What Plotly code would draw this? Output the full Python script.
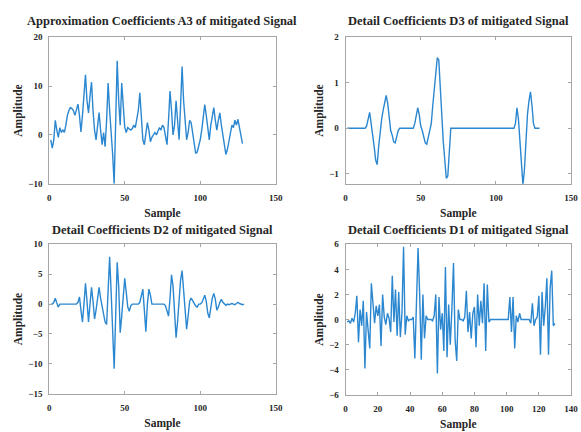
import plotly.graph_objects as go

# Wavelet decomposition coefficients of the mitigated signal
a3_values = [
    -1, -2.7, -1, 3, 1, -0.5, 1.5, 0.5, 1, 0.5,
    2, 4, 5, 5.6, 5.4, 5, 4, 5, 6.3, 4,
    0.6, 4, 8, 12.3, 7, 4.5, 8, 10.8, 5, 1,
    -1, 2, 4.6, 1, -2, 0.5, -2.4, 3, 10.6, 5,
    1, -4, -10, 6, 15.2, 7, 2, 10.6, 5, 1.6,
    0.5, 1.5, 1.2, 1, 1.3, 2, 1.5, 3, 5, 8.6,
    3, -1, -2, 0, 2.5, 1, -1.4, -0.5, 0, 0.5,
    0, 1, 1.5, 1, 2, 1.5, 0, -2, 3, 9,
    5, 0, 2, 7, 3, -1, 6, 14, 7, 2,
    -1, 0.5, 3, 2.5, 0, -2, -3.8, -3.5, -2.5, -1,
    1, 4, 6.2, 4, 1, -1, 2, 4, 5.6, 3,
    1, 3, 4.5, 2, 0, -2.5, -4, -3, -1, 1,
    2, 1.5, 3, 2, 3.2, 1.5, 0, -1.8,
]

d3_values = [
    0, 0, 0, 0, 0, 0, 0, 0, 0, 0,
    0, 0, 0, 0.05, 0.2, 0.35, 0.1, -0.1, -0.4, -0.7,
    -0.8, -0.4, 0, 0.2, 0.4, 0.6, 0.72, 0.55, 0.15, -0.05,
    -0.15, -0.3, -0.32, -0.2, -0.05, 0, 0, 0, 0, 0,
    0, 0, 0, 0, 0, 0.1, 0.3, 0.45, 0.3, 0.05,
    -0.05, -0.2, -0.32, -0.35, -0.2, -0.1, 0.1, 0.5, 0.9, 1.3,
    1.55, 1.5, 1.0, 0.3, -0.3, -0.8, -1.1, -1.05, -0.5, 0,
    0, 0, 0, 0, 0, 0, 0, 0, 0, 0,
    0, 0, 0, 0, 0, 0, 0, 0, 0, 0,
    0, 0, 0, 0, 0, 0, 0, 0, 0, 0,
    0, 0, 0, 0, 0, 0, 0, 0, 0, 0,
    0, 0, 0.1, 0.45, 0.2, -0.3, -0.8, -1.25, -0.9, -0.2,
    0.3, 0.6, 0.8, 0.5, 0.1, 0, 0, 0, 0,
]

d2_values = [
    0, 0, 0.3, 1, 0.2, -0.5, 0, 0, 0, 0,
    0, 0, 0, 0, 0, 0, 0, 0, 0.3, 1.2,
    -1, -3, 0, 3.5, 0.5, -3, 0, 2.8, 0.5, -2.5,
    -1, 1, 2.8, 1, -0.5, -1.5, -3, -3.4, 2, 7.9,
    2, -5, -10.8, -2, 7, 3, -4.8, -2, 1, 4.3,
    2, -0.5, -1.2, -0.3, 0, 0, 0, 0, 0, 0.3,
    1.5, 2.5, -1, -4.6, 0, 2.5, 1.5, 0, 0, 0,
    0, 0, 0, 0, 0, 0, -0.3, -1, -2, 1,
    4.9, 3, -2, -5.6, -3, 1, 4, 5.6, 2, -2,
    -4.2, -2, 0.5, 1, 0.5, 0, -0.3, -0.5, 0, 0,
    0.2, 0.8, 1.5, 0.5, -1.5, -2.3, -0.5, 1, 1.8, 0.8,
    -1, -0.5, 0.3, 0.8, 0.3, 0, -0.2, 0, -0.1, 0,
    0.1, 0, -0.1, 0.1, 0.3, 0.1, 0, -0.1, 0,
]

d1_values = [
    -0.2, -0.1, -0.3, 0.1, -0.2, 0.5, 1.9, -1.8, 0.8, -0.5,
    1.5, -3.9, 0.6, -1.2, -2.3, 2.9, 0.9, -0.3, 1.1, 0.3,
    1.2, -2.1, 2.0, 0.2, -0.4, 0.5, 0.1, -1.0, 3.5, -0.2,
    2.4, -1.3, 2.2, -1.4, 0.5, 5.8, -1.2, 0.3, -0.1, 0,
    0, 0.2, -3.1, 1, 5.7, 2.0, -3.2, 2.0, -1.5, 0.3,
    0, 0, 0, -0.1, 0.3, 2.0, -4.3, 1.8, -0.8, 0.5,
    -2.5, 4.2, -3.0, 1.2, -2.0, 0.8, 4.5, -1.6, -3.3, 0.8,
    0, 0, -0.1, 0.2, 2.3, -1.0, 0.6, -1.5, 0.5, 1.0,
    -2.2, 2.0, -0.5, 1.5, -0.3, 2.9, -2.5, 2.8, -0.2, 0,
    0, 0, 0, 0, 0, 0, 0, 0, 0, 0,
    0, 1.8, -1.0, 1.8, -2.3, 0.3, -0.2, 0.5, 0, 0,
    0, 0, 0, 0, -0.3, 1.3, -0.5, 0, 0.2, 1.9,
    -2.8, 2.2, -0.5, 1.0, 3.3, -2.8, 2.5, 3.9, -0.5, -0.3,
]

panel_titles = [
    "Approximation Coefficients A3 of mitigated Signal",
    "Detail Coefficients D3 of mitigated Signal",
    "Detail Coefficients D2 of mitigated Signal",
    "Detail Coefficients D1 of mitigated Signal",
]
x_label = "Sample"
y_label = "Amplitude"

series = [a3_values, d3_values, d2_values, d1_values]
x_ranges = [[0, 150], [0, 150], [0, 150], [0, 140]]
y_ranges = [[-10, 20], [-1.22, 2], [-15, 10], [-6, 6]]
x_dtick = [50, 50, 50, 20]
y_dtick = [10, 1, 5, 2]

W, H = 581, 432
# axes boxes in pixels: (left, right, top, bottom)
boxes = [(48, 278, 33, 183), (349, 578, 33, 183),
         (48, 278, 245, 398), (349, 578, 245, 399)]
title_gap = [7, 7, 5, 5]

FONT = "Liberation Serif"
LINE_COLOR = "#2b87d0"
AXIS_COLOR = "#a6a6a6"
TEXT_COLOR = "#262626"

fig = go.Figure()
annotations = []
for i, vals in enumerate(series):
    n = i + 1
    xa = "x" if n == 1 else f"x{n}"
    ya = "y" if n == 1 else f"y{n}"
    samples = list(range(1, len(vals) + 1))
    fig.add_trace(go.Scatter(
        x=samples, y=vals, mode="lines", xaxis=xa, yaxis=ya,
        line=dict(color=LINE_COLOR, width=1.4), showlegend=False,
    ))
    l, r, t, b = boxes[i]
    axis_common = dict(
        showline=True, linecolor=AXIS_COLOR, linewidth=1, mirror="ticks",
        ticks="inside", ticklen=3, tickcolor=AXIS_COLOR, showgrid=False,
        zeroline=False,
        tickfont=dict(family=FONT, size=9, color=TEXT_COLOR, weight="bold"),
    )
    label_font = dict(family=FONT, size=11.5, color=TEXT_COLOR, weight="bold")
    fig.layout[f"xaxis{'' if n == 1 else n}"] = dict(
        domain=[l / W, r / W], anchor=ya, range=x_ranges[i],
        tick0=0, dtick=x_dtick[i], ticklabelstandoff=5,
        title=dict(text=x_label, standoff=7, font=label_font),
        **axis_common,
    )
    fig.layout[f"yaxis{'' if n == 1 else n}"] = dict(
        domain=[1 - b / H, 1 - t / H], anchor=xa, range=y_ranges[i],
        tick0=0, dtick=y_dtick[i], ticklabelstandoff=4,
        title=dict(text=y_label, standoff=3, font=label_font),
        **axis_common,
    )
    annotations.append(dict(
        text=panel_titles[i], xref="paper", yref="paper",
        x=(l + r) / 2 / W, y=1 - (t - title_gap[i]) / H,
        xanchor="center", yanchor="bottom", showarrow=False,
        font=dict(family=FONT, size=12.5, color=TEXT_COLOR, weight="bold"),
    ))

fig.update_layout(
    width=W, height=H, margin=dict(l=0, r=0, t=0, b=0),
    paper_bgcolor="white", plot_bgcolor="white",
    annotations=annotations,
)

fig.write_html("out.html")
